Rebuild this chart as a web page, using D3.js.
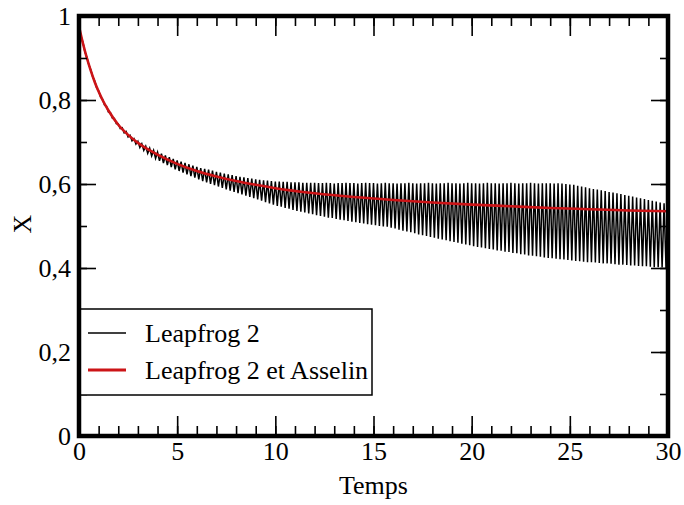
<!DOCTYPE html>
<html>
<head>
<meta charset="utf-8">
<script src="https://cdn.jsdelivr.net/npm/d3@7"></script>
<style>
  body { margin: 0; background: #fff; }
  text { font-family: "Liberation Serif", "Times New Roman", serif; fill: #000; }
</style>
</head>
<body>
<svg id="chart" width="684" height="505"></svg>
<script>
// time step of the leapfrog run
const dt = 0.1

// Leapfrog 2 : values at even steps (t = 0, 0.2, 0.4 ...)
const leapEven = [
  0.976, 0.937, 0.902, 0.872, 0.845, 0.822, 0.802, 0.785, 0.770, 0.756,
  0.743, 0.734, 0.725, 0.716, 0.708, 0.702, 0.696, 0.690, 0.685, 0.680,
  0.676, 0.672, 0.668, 0.664, 0.660, 0.656, 0.653, 0.650, 0.647, 0.644,
  0.641, 0.638, 0.636, 0.634, 0.632, 0.629, 0.627, 0.625, 0.623, 0.621,
  0.619, 0.617, 0.616, 0.614, 0.613, 0.611, 0.610, 0.609, 0.608, 0.607,
  0.606, 0.606, 0.605, 0.605, 0.604, 0.604, 0.604, 0.603, 0.603, 0.603,
  0.603, 0.602, 0.602, 0.603, 0.602, 0.601, 0.602, 0.602, 0.603, 0.602,
  0.602, 0.601, 0.602, 0.603, 0.602, 0.602, 0.601, 0.602, 0.603, 0.602,
  0.602, 0.601, 0.602, 0.602, 0.603, 0.602, 0.601, 0.602, 0.602, 0.603,
  0.602, 0.601, 0.602, 0.602, 0.603, 0.602, 0.602, 0.601, 0.602, 0.603,
  0.602, 0.602, 0.601, 0.602, 0.603, 0.602, 0.602, 0.601, 0.602, 0.602,
  0.603, 0.602, 0.601, 0.602, 0.602, 0.603, 0.602, 0.601, 0.602, 0.602,
  0.602, 0.601, 0.602, 0.601, 0.600, 0.599, 0.598, 0.596, 0.594, 0.592,
  0.590, 0.588, 0.587, 0.585, 0.583, 0.581, 0.580, 0.578, 0.576, 0.574,
  0.572, 0.570, 0.568, 0.566, 0.564, 0.562, 0.560, 0.558, 0.556, 0.554,
  0.552
]
// Leapfrog 2 : values at odd steps (t = 0.1, 0.3, 0.5 ...)
const leapOdd = [
  0.952, 0.915, 0.884, 0.855, 0.829, 0.807, 0.788, 0.771, 0.757, 0.744,
  0.732, 0.722, 0.712, 0.703, 0.695, 0.687, 0.680, 0.673, 0.667, 0.661,
  0.655, 0.650, 0.645, 0.640, 0.635, 0.631, 0.627, 0.623, 0.619, 0.615,
  0.611, 0.607, 0.604, 0.600, 0.597, 0.594, 0.591, 0.587, 0.584, 0.581,
  0.578, 0.575, 0.572, 0.569, 0.566, 0.563, 0.560, 0.557, 0.554, 0.551,
  0.548, 0.546, 0.543, 0.541, 0.538, 0.536, 0.534, 0.532, 0.530, 0.528,
  0.526, 0.524, 0.522, 0.520, 0.519, 0.517, 0.515, 0.514, 0.512, 0.510,
  0.509, 0.507, 0.506, 0.504, 0.503, 0.502, 0.500, 0.499, 0.498, 0.496,
  0.494, 0.491, 0.489, 0.487, 0.485, 0.483, 0.480, 0.478, 0.476, 0.474,
  0.472, 0.470, 0.468, 0.466, 0.464, 0.462, 0.460, 0.458, 0.456, 0.454,
  0.452, 0.450, 0.449, 0.447, 0.445, 0.444, 0.442, 0.441, 0.439, 0.438,
  0.436, 0.435, 0.433, 0.432, 0.430, 0.429, 0.428, 0.427, 0.425, 0.424,
  0.423, 0.422, 0.421, 0.420, 0.419, 0.418, 0.417, 0.416, 0.415, 0.414,
  0.414, 0.413, 0.412, 0.411, 0.411, 0.410, 0.409, 0.408, 0.408, 0.407,
  0.406, 0.406, 0.405, 0.404, 0.404, 0.403, 0.402, 0.402, 0.401, 0.400
]

// Leapfrog 2 et Asselin
const asselinT = [0, 0.2, 0.4, 0.6, 0.8, 1, 1.2, 1.5, 2, 2.5, 3, 3.5, 4, 5, 6, 7, 8, 9, 10,
                  12, 14, 16, 18, 20, 22, 24, 26, 28, 30]
const asselinX = [0.975, 0.935, 0.9, 0.87, 0.843, 0.82, 0.80, 0.775, 0.741, 0.717, 0.698, 0.683,
                  0.67, 0.648, 0.631, 0.618, 0.607, 0.598, 0.59, 0.578, 0.569, 0.562, 0.556,
                  0.551, 0.547, 0.543, 0.540, 0.537, 0.535]

const xMajor = [0, 5, 10, 15, 20, 25, 30]
const yMajor = [0, 0.2, 0.4, 0.6, 0.8, 1]
const seriesNames = ["Leapfrog 2", "Leapfrog 2 et Asselin"]
const seriesColours = ["#000000", "#cc1417"]

// put even and odd steps back in time order
let leapData = []
for (let k = 0; k < leapEven.length + leapOdd.length; k++) {
    let v = k % 2 == 0 ? leapEven[k / 2] : leapOdd[(k - 1) / 2]
    leapData.push({t: k * dt, v: v})
}
let asselinData = asselinT.map((t, i) => ({t: t, v: asselinX[i]}))

let svg = d3.select("#chart")

let x = d3.scaleLinear().domain([0, 30]).range([79, 668])
let y = d3.scaleLinear().domain([0, 1]).range([436, 16])

let frFormat = d3.formatLocale({decimal: ",", thousands: " ", grouping: [3], currency: ["", ""]}).format(".1~f")

// Data lines
let line = d3.line().x(d => x(d.t)).y(d => y(d.v))

svg.append("path")
    .datum(leapData)
    .attr("d", line)
    .attr("fill", "none")
    .attr("stroke", seriesColours[0])
    .attr("stroke-width", 1.5)

svg.append("path")
    .datum(asselinData)
    .attr("d", line.curve(d3.curveMonotoneX))
    .attr("fill", "none")
    .attr("stroke", seriesColours[1])
    .attr("stroke-width", 2.6)

// Ticks, all pointing inside the frame
function tickGroup(axis, tx, ty) {
    let g = svg.append("g")
        .attr("transform", `translate(${tx},${ty})`)
        .call(axis)
    g.select(".domain").remove()
    g.selectAll("line").attr("stroke", "#000").attr("stroke-width", 1.6)
    g.selectAll("text").style("font-size", "26px").attr("font-family", null)
    return g
}

let xMinor = d3.range(0, 31)
let yMinor = d3.range(0, 11).map(d => d / 10)

tickGroup(d3.axisBottom(x).tickValues(xMinor).tickSize(-10).tickFormat(""), 0, y(0))
tickGroup(d3.axisTop(x).tickValues(xMinor).tickSize(-10).tickFormat(""), 0, y(1))
tickGroup(d3.axisLeft(y).tickValues(yMinor).tickSize(-8).tickFormat(""), x(0), 0)
tickGroup(d3.axisRight(y).tickValues(yMinor).tickSize(-8).tickFormat(""), x(30), 0)

tickGroup(d3.axisBottom(x).tickValues(xMajor).tickSize(-20).tickPadding(6).tickFormat(d => d), 0, y(0))
tickGroup(d3.axisTop(x).tickValues(xMajor).tickSize(-20).tickFormat(""), 0, y(1))
tickGroup(d3.axisLeft(y).tickValues(yMajor).tickSize(-17).tickPadding(8).tickFormat(frFormat), x(0), 0)
tickGroup(d3.axisRight(y).tickValues(yMajor).tickSize(-17).tickFormat(""), x(30), 0)

// Legend box
let legend = svg.append("g").attr("id", "legend")
legend.append("rect")
    .attr("x", 80).attr("y", 309)
    .attr("width", 292).attr("height", 86)
    .attr("fill", "#fff")
    .attr("stroke", "#000")
    .attr("stroke-width", 1.5)

let rows = legend.selectAll("g.row")
    .data(seriesNames)
    .enter()
    .append("g")
    .attr("class", "row")
    .attr("transform", (d, i) => `translate(0, ${333 + i * 37})`)

rows.append("line")
    .attr("x1", 88).attr("x2", 126)
    .attr("y1", 0).attr("y2", 0)
    .attr("stroke", (d, i) => seriesColours[i])
    .attr("stroke-width", (d, i) => i == 0 ? 1.5 : 3.2)

rows.append("text")
    .attr("x", 145)
    .attr("y", 9)
    .style("font-size", "26px")
    .text(d => d)

// Frame
svg.append("rect")
    .attr("x", x(0)).attr("y", y(1))
    .attr("width", x(30) - x(0)).attr("height", y(0) - y(1))
    .attr("fill", "none")
    .attr("stroke", "#000")
    .attr("stroke-width", 4.5)

// Axis titles
svg.append("text")
    .attr("x", x(15))
    .attr("y", 494)
    .attr("text-anchor", "middle")
    .style("font-size", "26px")
    .text("Temps")

svg.append("text")
    .attr("transform", "translate(31, 224) rotate(-90)")
    .attr("text-anchor", "middle")
    .style("font-size", "26px")
    .text("X")
</script>
</body>
</html>
